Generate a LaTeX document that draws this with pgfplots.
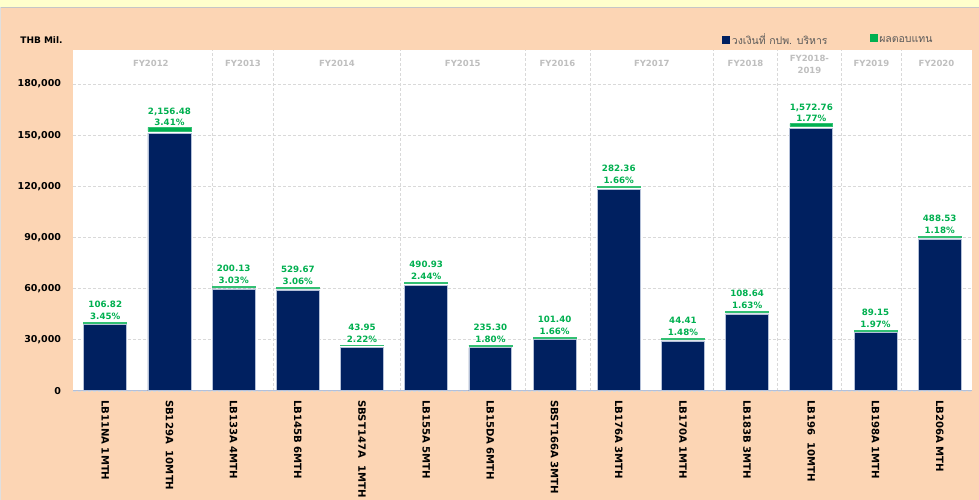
\documentclass[border=0pt]{standalone}
\usepackage{pgfplots}
\pgfplotsset{compat=1.18}
\usepackage{pgfplotstable}
\usepackage{fontspec}
\setmainfont{DejaVu Sans}
\newfontfamily\thaifont[Script=Thai]{Loma}
\definecolor{navy}{HTML}{002060}
\definecolor{xlgreen}{HTML}{00B050}
\definecolor{peach}{HTML}{FCD5B4}
\definecolor{topyel}{HTML}{FFFFCC}
\definecolor{gridc}{HTML}{D9D9D9}
\definecolor{hdr}{HTML}{BFBFBF}
\definecolor{legtxt}{HTML}{595959}
\definecolor{barline}{HTML}{B4C0D8}
\protected\def\lab#1#2{#1\\#2\%}

\pgfplotstableread{
x v g lab
0 38700 106.82 \lab{106.82}{3.45}
1 151200 2156.48 \lab{2,156.48}{3.41}
2 59800 200.13 \lab{200.13}{3.03}
3 59200 529.67 \lab{529.67}{3.06}
4 25400 43.95 \lab{43.95}{2.22}
5 62100 490.93 \lab{490.93}{2.44}
6 25200 235.30 \lab{235.30}{1.80}
7 29900 101.40 \lab{101.40}{1.66}
8 118400 282.36 \lab{282.36}{1.66}
9 29300 44.41 \lab{44.41}{1.48}
10 45100 108.64 \lab{108.64}{1.63}
11 154000 1572.76 \lab{1,572.76}{1.77}
12 34000 89.15 \lab{89.15}{1.97}
13 89100 488.53 \lab{488.53}{1.18}
}\data

\begin{document}
\begin{tikzpicture}
\fill[peach] (0pt,0pt) rectangle (979pt,500pt);
\fill[topyel] (0pt,493pt) rectangle (979pt,500pt);
\draw[gray!45] (0pt,492.5pt) -- (979pt,492.5pt);
\draw[gray!25] (0.5pt,0pt) -- (0.5pt,492.5pt);
\node[anchor=west,inner sep=0pt,font=\bfseries\fontsize{9}{10}\selectfont] at (20pt,460pt) {THB Mil.};
\useasboundingbox (0pt,0pt) rectangle (979pt,500pt);
\begin{axis}[
  at={(73pt,109pt)}, anchor=south west,
  scale only axis, width=899pt, height=341pt,
  xmin=-0.5, xmax=13.5, ymin=0, ymax=200000,
  enlargelimits=false,
  axis background/.style={fill=white},
  axis line style={draw=none},
  tick style={draw=none},
  major tick length=0pt,
  ybar stacked, bar width=43pt,
  xtick={0,...,13},
  xticklabels={LB11NA 1MTH, SB129A\ \ 10MTH, LB133A 4MTH, LB145B 6MTH, SBST147A\ \ 1MTH, LB155A 5MTH, LB15DA 6MTH, SBST166A 3MTH, LB176A 3MTH, LB170A 1MTH, LB183B 3MTH, LB196\ \ 10MTH, LB198A 1MTH, LB206A MTH},
  xticklabel style={rotate=-90, anchor=west, inner sep=0pt, font=\bfseries\fontsize{10.1}{11}\selectfont},
  xticklabel shift=9pt,
  ytick={0,30000,60000,90000,120000,150000,180000},
  yticklabels={0,{30,000},{60,000},{90,000},{120,000},{150,000},{180,000}},
  scaled y ticks=false,
  yticklabel style={inner sep=0pt, font=\bfseries\fontsize{9.5}{10}\selectfont},
  yticklabel shift=12pt,
  ymajorgrids, grid style={densely dashed, gridc, line width=0.6pt},
  extra x ticks={1.67,2.62,4.60,6.54,7.55,9.48,10.47,11.47,12.40},
  extra x tick style={xmajorgrids=true, major tick length=0pt, xticklabel={}},
  legend style={at={(0.7186,1.029)}, anchor=west, draw=none, fill=none,
     legend columns=2, font=\thaifont\fontsize{10.5}{12}\selectfont, text=legtxt,
     /tikz/every even column/.append style={column sep=40pt},
     nodes={inner sep=2pt}},
  clip=false,
]
\addplot[fill=navy, draw=barline, line width=0.8pt,
  legend image code/.code={\fill[navy] (0pt,-3.5pt) rectangle (7pt,3.5pt);}]
  table[x=x, y=v] {\data};
\addlegendentry{วงเงินที่ กปพ. บริหาร}
\addplot[fill=xlgreen, draw=xlgreen!80, line width=0.7pt, yshift=2pt,
  legend image code/.code={\fill[xlgreen] (0pt,-3.5pt) rectangle (7pt,3.5pt);},
  point meta=explicit symbolic,
  nodes near coords={\pgfplotspointmeta},
  every node near coord/.append style={font=\bfseries\fontsize{8.7}{11.5}\selectfont, text=xlgreen, align=center, anchor=south, inner sep=0pt, yshift=3pt}]
  table[x=x, y=g, meta=lab] {\data};
\addlegendentry{ผลตอบแทน}
\draw[barline, line width=0.8pt] (axis cs:-0.5,0) -- (axis cs:13.5,0);
\node[font=\bfseries\fontsize{8.5}{10}\selectfont, text=hdr] at (axis cs:0.71,192400) {FY2012};
\node[font=\bfseries\fontsize{8.5}{10}\selectfont, text=hdr] at (axis cs:2.145,192400) {FY2013};
\node[font=\bfseries\fontsize{8.5}{10}\selectfont, text=hdr] at (axis cs:3.61,192400) {FY2014};
\node[font=\bfseries\fontsize{8.5}{10}\selectfont, text=hdr] at (axis cs:5.57,192400) {FY2015};
\node[font=\bfseries\fontsize{8.5}{10}\selectfont, text=hdr] at (axis cs:7.045,192400) {FY2016};
\node[font=\bfseries\fontsize{8.5}{10}\selectfont, text=hdr] at (axis cs:8.515,192400) {FY2017};
\node[font=\bfseries\fontsize{8.5}{10}\selectfont, text=hdr] at (axis cs:9.975,192400) {FY2018};
\node[font=\bfseries\fontsize{8.5}{12.5}\selectfont, text=hdr, align=center] at (axis cs:10.97,191500) {FY2018-\\2019};
\node[font=\bfseries\fontsize{8.5}{10}\selectfont, text=hdr] at (axis cs:11.935,192400) {FY2019};
\node[font=\bfseries\fontsize{8.5}{10}\selectfont, text=hdr] at (axis cs:12.95,192400) {FY2020};
\end{axis}
\end{tikzpicture}
\end{document}
